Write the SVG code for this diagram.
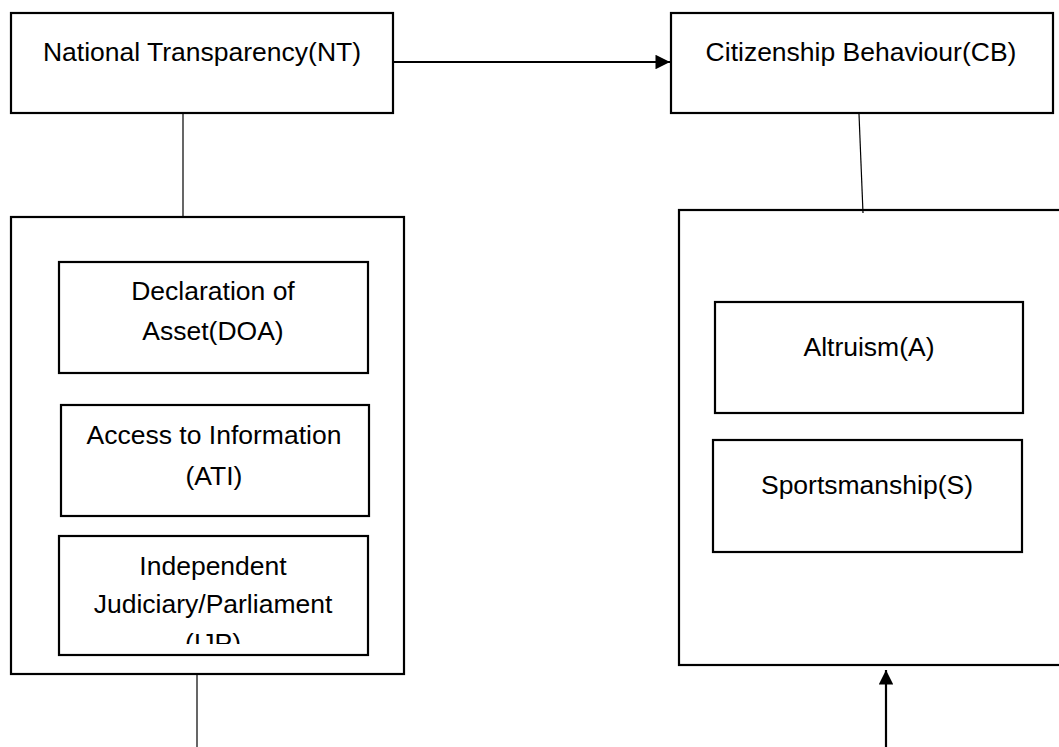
<svg xmlns="http://www.w3.org/2000/svg" width="1059" height="747" viewBox="0 0 1059 747">
<style>
.box{fill:#fff;stroke:#000;stroke-width:2.2}
.outer{fill:none;stroke:#000;stroke-width:2.2}
.thin{stroke:#000;stroke-width:1.2;fill:none}
.thick{stroke:#000;stroke-width:2.2;fill:none}
text{font-family:"Liberation Sans",Arial,sans-serif;font-size:26.5px;fill:#000;text-anchor:middle}
</style>
<defs>
<marker id="arr" markerWidth="6.6" markerHeight="6.6" refX="7" refY="3.5" orient="auto" markerUnits="strokeWidth" viewBox="0 0 7 7">
<path d="M0,0 L7,3.5 L0,7 Z" fill="#000"/>
</marker>
<clipPath id="clipIJP"><rect x="58" y="536" width="310" height="108"/></clipPath>
</defs>
<g id="connectors">
<line class="thick" x1="394" y1="62" x2="670" y2="62" marker-end="url(#arr)"/>
<line class="thin" x1="183" y1="114" x2="183" y2="216"/>
<line class="thin" x1="197" y1="675" x2="197" y2="747"/>
<line class="thin" x1="859" y1="114" x2="863" y2="213"/>
<line class="thick" x1="886" y1="747" x2="886" y2="670" marker-end="url(#arr)"/>
</g>
<g id="nt">
<rect class="box" x="11" y="13" width="382" height="100"/>
<text x="202" y="61">National Transparency(NT)</text>
</g>
<g id="cb">
<rect class="box" x="671" y="13" width="382" height="100"/>
<text x="861" y="61">Citizenship Behaviour(CB)</text>
</g>
<g id="nt-group">
<rect class="outer" x="11" y="217" width="393" height="457"/>
</g>
<g id="doa">
<rect class="box" x="59" y="262" width="309" height="111"/>
<text x="213" y="300">Declaration of</text>
<text x="213" y="340">Asset(DOA)</text>
</g>
<g id="ati">
<rect class="box" x="61" y="405" width="308" height="111"/>
<text x="214" y="444">Access to Information</text>
<text x="214" y="485">(ATI)</text>
</g>
<g id="ijp">
<rect class="box" x="59" y="536" width="309" height="119"/>
<g clip-path="url(#clipIJP)">
<text x="213" y="575">Independent</text>
<text x="213" y="613">Judiciary/Parliament</text>
<text x="213" y="652">(IJP)</text>
</g>
</g>
<g id="cb-group">
<rect class="outer" x="679" y="210" width="400" height="455"/>
</g>
<g id="altruism">
<rect class="box" x="715" y="302" width="308" height="111"/>
<text x="869" y="356">Altruism(A)</text>
</g>
<g id="sportsmanship">
<rect class="box" x="713" y="440" width="309" height="112"/>
<text x="867" y="494">Sportsmanship(S)</text>
</g>
</svg>
